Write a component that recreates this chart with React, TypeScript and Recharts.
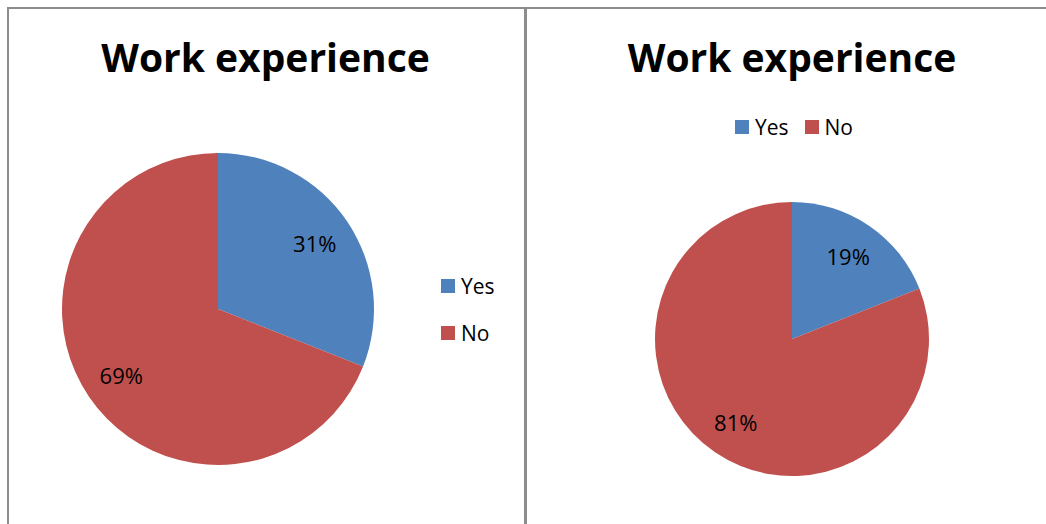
import React from "react";
import { Legend, Pie, PieChart, Cell } from "recharts";

const categories = ["Yes", "No"];
const leftValues = [31, 69];
const rightValues = [19, 81];
const colors = ["#4F81BD", "#C0504D"];
const title = "Work experience";

const FONT = "'Open Sans', sans-serif";
const RADIAN = Math.PI / 180;

const leftData = categories.map((name, i) => ({ name, value: leftValues[i] }));
const rightData = categories.map((name, i) => ({ name, value: rightValues[i] }));

function makeLabel(frac: number) {
  return (props: any) => {
    const { cx, cy, midAngle, outerRadius, value } = props;
    const r = outerRadius * frac;
    const x = cx + r * Math.cos(-midAngle * RADIAN);
    const y = cy + r * Math.sin(-midAngle * RADIAN);
    return (
      <text
        x={x}
        y={y}
        fill="#000"
        textAnchor="middle"
        dominantBaseline="central"
        fontSize={22}
        fontFamily={FONT}
      >
        {`${value}%`}
      </text>
    );
  };
}

// keep the legend in category order (recharts sorts by name otherwise)
function legendContent(vertical: boolean) {
  return (props: any) => {
    const payload = [...(props.payload || [])].sort(
      (a: any, b: any) => categories.indexOf(a.value) - categories.indexOf(b.value)
    );
    return (
      <div
        style={{
          display: "flex",
          flexDirection: vertical ? "column" : "row",
          gap: vertical ? 21 : 16,
          fontFamily: FONT,
          fontSize: 21,
          color: "#000",
        }}
      >
        {payload.map((entry: any, i: number) => (
          <div key={`item-${i}`} style={{ display: "flex", alignItems: "center", height: 26 }}>
            <span
              style={{
                display: "inline-block",
                width: 14,
                height: 14,
                background: entry.color,
                marginRight: 6,
              }}
            />
            <span>{entry.value}</span>
          </div>
        ))}
      </div>
    );
  };
}

const titleStyle: React.CSSProperties = {
  position: "absolute",
  top: 28,
  fontFamily: FONT,
  fontWeight: 700,
  fontSize: 39,
  color: "#000",
  textAlign: "center",
  lineHeight: "58px",
  whiteSpace: "nowrap",
};

export default function App(): React.ReactElement {
  return (
    <div
      style={{
        position: "absolute",
        left: 0,
        top: 0,
        width: 1046,
        height: 524,
        background: "#fff",
        overflow: "hidden",
      }}
    >
      {/* left panel frame */}
      <div
        style={{
          position: "absolute",
          left: 7,
          top: 7,
          width: 515,
          height: 540,
          borderLeft: "2px solid #8c8c8c",
          borderTop: "2px solid #8c8c8c",
          borderRight: "2px solid #8c8c8c",
        }}
      />
      {/* right panel frame */}
      <div
        style={{
          position: "absolute",
          left: 525,
          top: 7,
          width: 540,
          height: 540,
          borderLeft: "2px solid #8c8c8c",
          borderTop: "2px solid #8c8c8c",
        }}
      />

      <div style={{ ...titleStyle, left: 7, width: 517 }}>{title}</div>
      <div style={{ ...titleStyle, left: 527, width: 530 }}>{title}</div>

      <div style={{ position: "absolute", left: 0, top: 0 }}>
        <PieChart width={524} height={524}>
          <Pie
            data={leftData}
            dataKey="value"
            nameKey="name"
            cx={213}
            cy={304}
            outerRadius={156}
            startAngle={90}
            endAngle={-270}
            stroke="none"
            labelLine={false}
            label={makeLabel(0.75)}
            isAnimationActive={false}
          >
            {leftData.map((entry, index) => (
              <Cell key={`cell-${index}`} fill={colors[index % colors.length]} />
            ))}
          </Pie>
          <Legend
            layout="vertical"
            content={legendContent(true)}
            wrapperStyle={{ left: 441, top: 273, width: 80 }}
          />
        </PieChart>
      </div>

      <div style={{ position: "absolute", left: 0, top: 0 }}>
        <PieChart width={1046} height={524}>
          <Pie
            data={rightData}
            dataKey="value"
            nameKey="name"
            cx={787}
            cy={334}
            outerRadius={137}
            startAngle={90}
            endAngle={-270}
            stroke="none"
            labelLine={false}
            label={makeLabel(0.73)}
            isAnimationActive={false}
          >
            {rightData.map((entry, index) => (
              <Cell key={`cell-${index}`} fill={colors[index % colors.length]} />
            ))}
          </Pie>
          <Legend
            layout="horizontal"
            content={legendContent(false)}
            wrapperStyle={{ left: 735, top: 114, width: 200 }}
          />
        </PieChart>
      </div>
    </div>
  );
}
